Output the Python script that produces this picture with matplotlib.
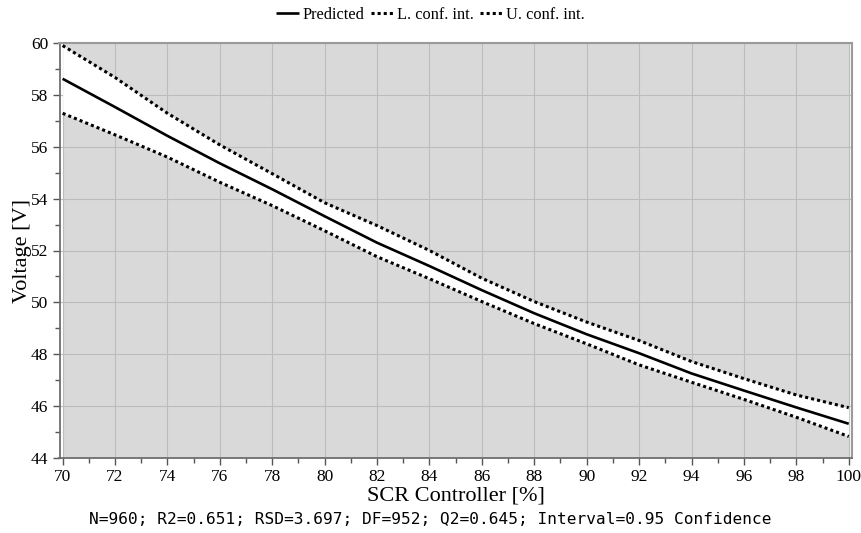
import numpy as np
import matplotlib.pyplot as plt
from matplotlib.ticker import MultipleLocator

# SCR controller setting [%] and model response [V]
scr = [70, 72, 74, 76, 78, 80, 82, 84, 86, 88, 90, 92, 94, 96, 98, 100]
predicted = [58.62, 57.53, 56.42, 55.36, 54.36, 53.32, 52.30, 51.40, 50.47,
             49.58, 48.77, 48.04, 47.26, 46.60, 45.95, 45.32]
lower_ci = [57.29, 56.46, 55.60, 54.63, 53.73, 52.76, 51.76, 50.91, 50.03,
            49.18, 48.40, 47.59, 46.92, 46.26, 45.57, 44.83]
upper_ci = [59.90, 58.67, 57.29, 56.07, 54.96, 53.84, 52.96, 52.00, 50.93,
            50.03, 49.24, 48.53, 47.72, 47.06, 46.43, 45.94]

stats_text = "N=960; R2=0.651; RSD=3.697; DF=952; Q2=0.645; Interval=0.95 Confidence"

SERIF = "Liberation Serif"
BG = "#d9d9d9"
GRID = "#bcbcbc"

fig = plt.figure(figsize=(8.61, 5.33), dpi=100)
ax = fig.add_axes([59.5 / 861, 1 - 458 / 533, (852 - 59.5) / 861, (458 - 43) / 533])

ax.set_facecolor("white")
ax.axvspan(scr[0], scr[-1], color=BG, zorder=0, lw=0)

# confidence band left white
ax.fill_between(scr, lower_ci, upper_ci, color="white", zorder=1, lw=0)

ax.plot(scr, predicted, color="black", lw=1.9, solid_capstyle="butt",
        label="Predicted", zorder=3)
ax.plot(scr, lower_ci, color="black", lw=2.2, linestyle=(0, (1, 1)),
        label="L. conf. int.", zorder=3)
ax.plot(scr, upper_ci, color="black", lw=2.2, linestyle=(0, (1, 1)),
        label="U. conf. int.", zorder=3)

ax.set_xlim(69.88, 100.125)
ax.set_ylim(44, 60)
ax.xaxis.set_major_locator(MultipleLocator(2))
ax.xaxis.set_minor_locator(MultipleLocator(1))
ax.yaxis.set_major_locator(MultipleLocator(2))
ax.yaxis.set_minor_locator(MultipleLocator(1))

ax.grid(True, which="major", color=GRID, lw=0.8, zorder=0.5)
ax.set_axisbelow(True)

for side in ("left", "bottom"):
    ax.spines[side].set_color("#6e6e6e")
    ax.spines[side].set_linewidth(1.3)
for side in ("top", "right"):
    ax.spines[side].set_color("#9a9a9a")
    ax.spines[side].set_linewidth(1.5)

ax.tick_params(which="major", length=5, width=1.0, color="#555555",
               labelsize=12.5, pad=3)
ax.tick_params(which="minor", length=3.5, width=1.0, color="#555555")
for lab in ax.get_xticklabels() + ax.get_yticklabels():
    lab.set_fontfamily(SERIF)

ax.set_xlabel("SCR Controller [%]", fontfamily=SERIF, fontsize=16, labelpad=1)
ax.set_ylabel("Voltage [V]", fontfamily=SERIF, fontsize=16, labelpad=-1)

fig.text(0.5, 1 - 520 / 533, stats_text, ha="center", va="center",
         fontfamily="DejaVu Sans Mono", fontsize=11.6)

leg = fig.legend(loc="center", bbox_to_anchor=(0.5, 1 - 15 / 533), ncol=3,
                 frameon=False, prop={"family": SERIF, "size": 11.8},
                 handlelength=1.4, handletextpad=0.2, columnspacing=0.4)

fig.savefig("out.png", dpi=100)
